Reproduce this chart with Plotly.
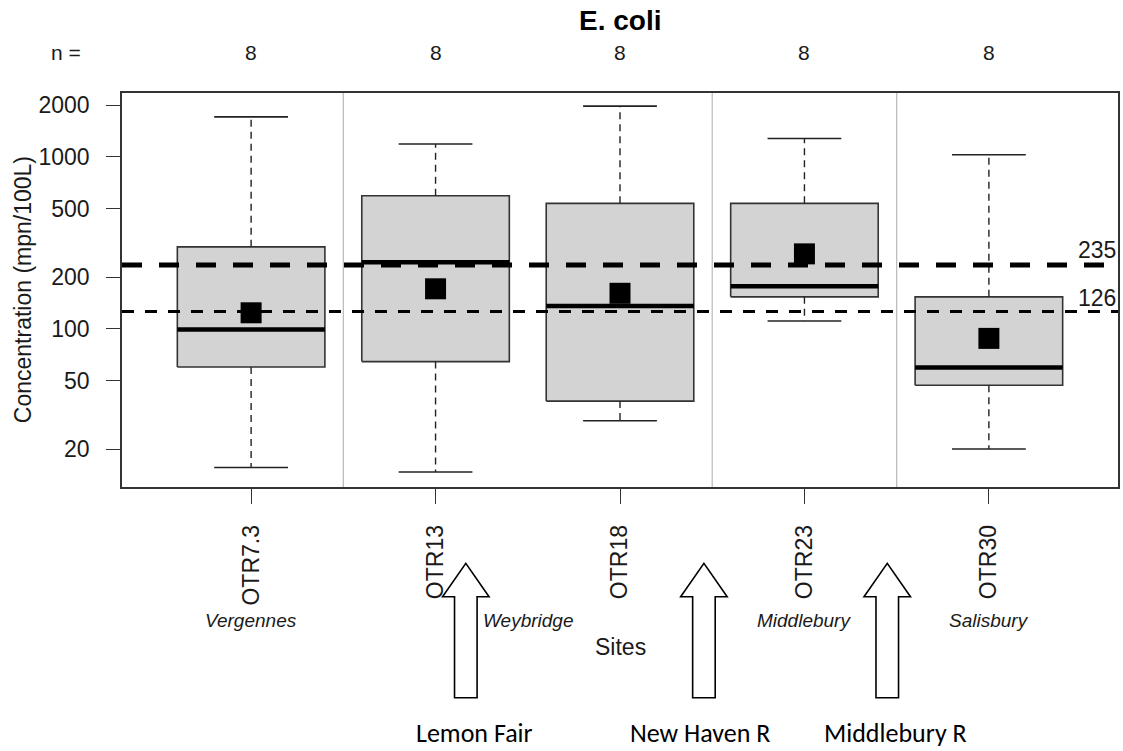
import plotly.graph_objects as go
import math

# ---------------- data ----------------
sites = ["OTR7.3", "OTR13", "OTR18", "OTR23", "OTR30"]
site_pos = [1, 2, 3, 4, 5]
n_obs = [8, 8, 8, 8, 8]
whisker_low = [15.6, 14.7, 29.2, 111, 20]
q1 = [60, 64.5, 38, 153.5, 47]
median = [99, 244, 136, 177, 59.5]
q3 = [300, 595, 537, 537, 153.5]
whisker_high = [1710, 1190, 1975, 1280, 1030]
means = [124, 171, 161, 273, 88]

thresholds = [235, 126]
threshold_width = [5, 3]
threshold_dash = ["20px,17px", "12px,11px"]

towns = ["Vergennes", "Weybridge", "Middlebury", "Salisbury"]
town_pos = [1, 2.5, 4, 5]
group_breaks = [1.5, 3.5, 4.5]

tributaries = ["Lemon Fair", "New Haven R", "Middlebury R"]
arrow_pos = [2.164, 3.455, 4.449]      # along the site axis
trib_label_pos = [2.21, 3.434, 4.496]

y_ticks = [20, 50, 100, 200, 500, 1000, 2000]

# ---------------- geometry helpers (figure layout) ----------------
W, H = 1123, 751
ML, MR, MT, MB = 122, 3, 93, 264
PW = W - ML - MR
PH = H - MT - MB
XR = [0.3, 5.7]
YR = [1.08, 3.372]


def px_x(px):
    return (px - ML) / PW


def px_y(py):
    return (H - MB - py) / PH


def dx_to_paper(xd):
    return (xd - XR[0]) / (XR[1] - XR[0])


FONT = "Liberation Sans, Arial, sans-serif"
TXT = "#1a1a1a"
BOXW = 0.4   # half width of box
CAPW = 0.2   # half width of staple

fig = go.Figure()

# boxes
for i, x in enumerate(site_pos):
    fig.add_trace(go.Scatter(
        x=[x - BOXW, x + BOXW, x + BOXW, x - BOXW, x - BOXW],
        y=[q1[i], q1[i], q3[i], q3[i], q1[i]],
        mode="lines", fill="toself", fillcolor="#D3D3D3",
        line=dict(color="#333333", width=1.6), hoverinfo="skip"))

# whiskers (dashed)
wx, wy = [], []
for i, x in enumerate(site_pos):
    wx += [x, x, None, x, x, None]
    wy += [q3[i], whisker_high[i], None, q1[i], whisker_low[i], None]
fig.add_trace(go.Scatter(x=wx, y=wy, mode="lines",
                         line=dict(color="#222222", width=1.4, dash="7px,5px"),
                         hoverinfo="skip"))
# staples
sx, sy = [], []
for i, x in enumerate(site_pos):
    sx += [x - CAPW, x + CAPW, None, x - CAPW, x + CAPW, None]
    sy += [whisker_high[i], whisker_high[i], None, whisker_low[i], whisker_low[i], None]
fig.add_trace(go.Scatter(x=sx, y=sy, mode="lines",
                         line=dict(color="#222222", width=1.6), hoverinfo="skip"))
# medians
mx, my = [], []
for i, x in enumerate(site_pos):
    mx += [x - BOXW, x + BOXW, None]
    my += [median[i], median[i], None]
fig.add_trace(go.Scatter(x=mx, y=my, mode="lines",
                         line=dict(color="black", width=4.5), hoverinfo="skip"))

# threshold lines
for t, w, d in zip(thresholds, threshold_width, threshold_dash):
    fig.add_trace(go.Scatter(x=XR, y=[t, t], mode="lines",
                             line=dict(color="black", width=w, dash=d),
                             hoverinfo="skip"))

# means
fig.add_trace(go.Scatter(x=site_pos, y=means, mode="markers",
                         marker=dict(symbol="square", size=21, color="black",
                                     line=dict(width=0)),
                         hoverinfo="skip"))

shapes = []
for b in group_breaks:
    shapes.append(dict(type="line", xref="x", yref="paper", x0=b, x1=b, y0=0, y1=1,
                       line=dict(color="#BEBEBE", width=1.3), layer="below"))

# arrows
tip_y, base_y, bot_y = 563.3, 596.7, 697.7
head_hw, shaft_hw = 23.3, 11.3
for a in arrow_pos:
    xc = ML + dx_to_paper(a) * PW
    pts = [(xc - shaft_hw, bot_y), (xc - shaft_hw, base_y), (xc - head_hw, base_y),
           (xc, tip_y), (xc + head_hw, base_y), (xc + shaft_hw, base_y),
           (xc + shaft_hw, bot_y)]
    path = "M " + " L ".join(f"{px_x(p[0]):.5f},{px_y(p[1]):.5f}" for p in pts) + " Z"
    shapes.append(dict(type="path", xref="paper", yref="paper", path=path,
                       fillcolor="white", line=dict(color="black", width=1.6)))


def note(text, x, y, size, xref="paper", yref="paper", color=TXT, family=FONT, **kw):
    d = dict(text=text, xref=xref, yref=yref, x=x, y=y, showarrow=False,
             xanchor=kw.pop("xanchor", "center"), yanchor=kw.pop("yanchor", "middle"),
             font=dict(family=family, size=size, color=color))
    d.update(kw)
    return d


ann = []
ann.append(note("<b>E. coli</b>", 0.5, px_y(21), 28, color="black"))
ann.append(note("n =", px_x(65.5), px_y(52), 21))
for x, n in zip(site_pos, n_obs):
    ann.append(note(str(n), x, px_y(52), 21, xref="x"))
for t, dy in zip(thresholds, [15, 14]):
    ann.append(note(str(t), 1.0, math.log10(t), 23, yref="y", xanchor="right",
                    yshift=dy))
for name, x in zip(towns, town_pos):
    ann.append(note(f"<i>{name}</i>", x, px_y(620), 19, xref="x"))
ann.append(note("Sites", 0.5, px_y(647), 23))
ann.append(note("Concentration (mpn/100L)", px_x(23), 0.5, 23, textangle=-90))
for name, x in zip(tributaries, trib_label_pos):
    ann.append(note(name, x, px_y(733), 26, xref="x", color="black",
                    family="Carlito, Lato, sans-serif", borderpad=0))

fig.update_layout(
    width=W, height=H,
    margin=dict(l=ML, r=MR, t=MT, b=MB),
    paper_bgcolor="white", plot_bgcolor="white",
    showlegend=False,
    shapes=shapes, annotations=ann,
    xaxis=dict(range=XR, tickmode="array", tickvals=site_pos, ticktext=sites,
               tickangle=-90, ticks="outside", ticklen=15, tickwidth=1.4,
               tickcolor="#333333", showgrid=False, zeroline=False,
               showline=True, linecolor="#333333", linewidth=1.6, mirror=True,
               ticklabelstandoff=12,
               tickfont=dict(family=FONT, size=23, color=TXT)),
    yaxis=dict(type="log", range=YR, tickmode="array", tickvals=y_ticks,
               ticktext=[str(v) for v in y_ticks], ticks="outside", ticklen=14,
               tickwidth=1.4, tickcolor="#333333", showgrid=False, zeroline=False,
               showline=True, linecolor="#333333", linewidth=1.6, mirror=True,
               ticklabelstandoff=12,
               tickfont=dict(family=FONT, size=23, color=TXT)),
)

fig.write_html("out.html",
               config={"displayModeBar": False},
               post_script="document.body.style.margin='0';"
                           "document.body.style.overflow='hidden';")
